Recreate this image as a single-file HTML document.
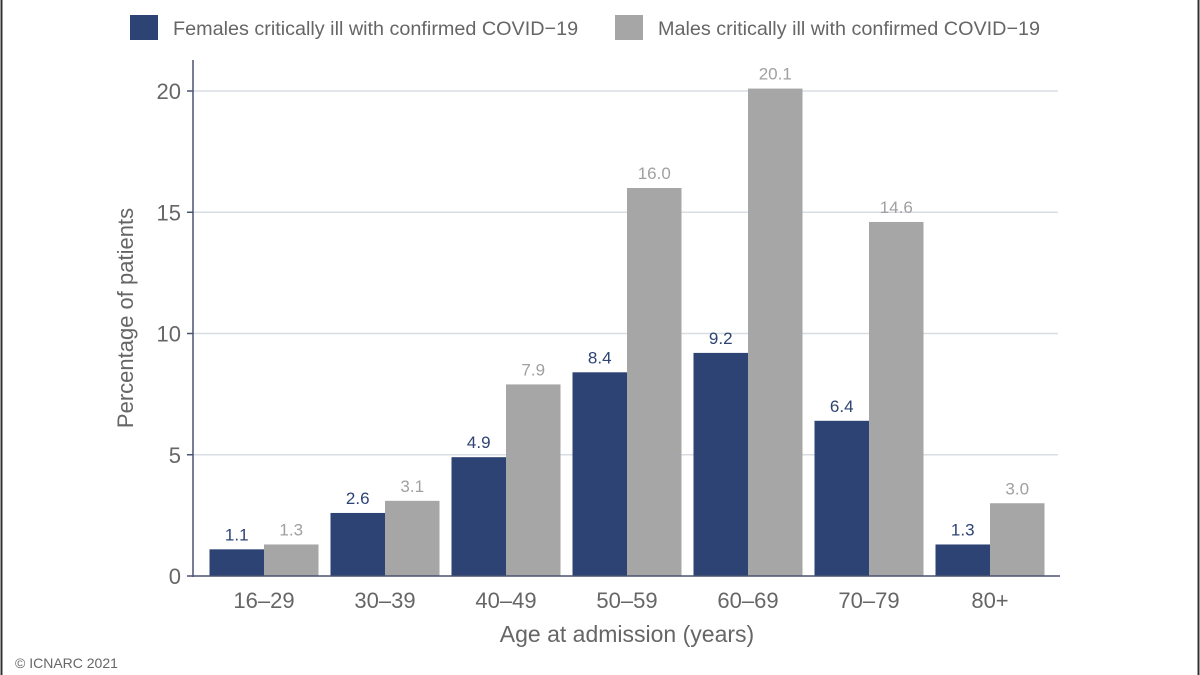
<!DOCTYPE html>
<html><head><meta charset="utf-8"><style>
body{margin:0;background:#fff;}
svg{display:block;font-family:"Liberation Sans",sans-serif;}
</style></head><body>
<svg width="1200" height="675">
<line x1="1.5" y1="0" x2="1.5" y2="675" stroke="#333" stroke-width="2"/>
<line x1="1198.5" y1="0" x2="1198.5" y2="675" stroke="#333" stroke-width="2"/>
<g>
<rect x="130" y="15" width="28" height="25" fill="#2c4373"/>
<text x="173" y="35" font-size="19.8" fill="#666">Females critically ill with confirmed COVID−19</text>
<rect x="615" y="15" width="28" height="25" fill="#a6a6a6"/>
<text x="658" y="35" font-size="19.8" fill="#666">Males critically ill with confirmed COVID−19</text>
</g>
<g id="plot"></g>
<text x="0" y="0" transform="translate(133,318) rotate(-90)" text-anchor="middle" font-size="22" fill="#666">Percentage of patients</text>
<text x="627" y="642" text-anchor="middle" font-size="23" fill="#666">Age at admission (years)</text>
<text x="15" y="668" font-size="14" fill="#666">© ICNARC 2021</text>
</svg>
<script>
const categories=["16–29","30–39","40–49","50–59","60–69","70–79","80+"];
const females=[1.1,2.6,4.9,8.4,9.2,6.4,1.3];
const males=[1.3,3.1,7.9,16.0,20.1,14.6,3.0];
const yTicks=[0,5,10,15,20];
const NS="http://www.w3.org/2000/svg";
const g=document.getElementById('plot');
const x0=203.5,band=121,y0=576,pxPer=24.25;
const y=v=>y0-v*pxPer;
const bx=i=>x0+i*band;
function mk(t,a){const e=document.createElementNS(NS,t);for(const k in a)e.setAttribute(k,a[k]);g.appendChild(e);return e;}
yTicks.forEach(t=>{
 if(t>0){const l=mk('line',{x1:193,x2:1058,y1:y(t),y2:y(t),stroke:'#d8dde3','stroke-width':1.5});
 
 }
 const tk=mk('line',{x1:187,x2:193,y1:y(t),y2:y(t),stroke:'#4a5470','stroke-width':1.5});
 
 
 const tx=mk('text',{x:181,y:y(t)+8,'text-anchor':'end','font-size':22,fill:'#666'});
 tx.textContent=t;
 
 
});
const bw=54.5,pad=6;
categories.forEach((c,i)=>{
 const fx=bx(i)+pad;
 const fr=mk('rect',{x:fx,y:y(females[i]),width:bw,height:females[i]*pxPer,fill:'#2c4373'});
 
 
 const mr=mk('rect',{x:fx+bw,y:y(males[i]),width:bw,height:males[i]*pxPer,fill:'#a6a6a6'});
 
 
 const fl=mk('text',{x:fx+bw/2,y:y(females[i])-9,'text-anchor':'middle','font-size':17,fill:'#2c4373'});
 fl.textContent=females[i].toFixed(1);
 
 
 const ml=mk('text',{x:fx+bw*1.5,y:y(males[i])-9,'text-anchor':'middle','font-size':17,fill:'#a0a0a0'});
 ml.textContent=males[i].toFixed(1);
 
 
 const cl=mk('text',{x:bx(i)+band/2,y:608,'text-anchor':'middle','font-size':22,fill:'#666'});
 cl.textContent=c;
 
 
});
const ya=mk('line',{x1:193,x2:193,y1:60,y2:577,stroke:'#4a5470','stroke-width':1.5});


const xa=mk('line',{x1:193,x2:1060,y1:576,y2:576,stroke:'#4a5470','stroke-width':1.5});


</script>
</body></html>
